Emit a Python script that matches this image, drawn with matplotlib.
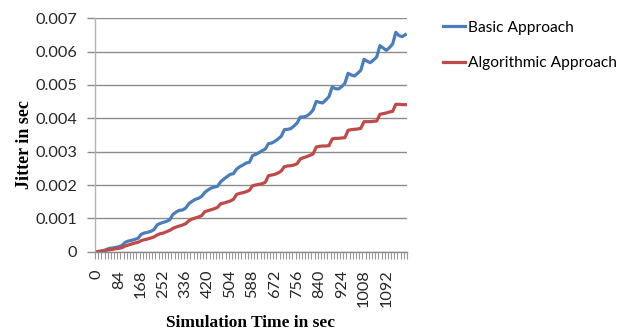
import numpy as np
import matplotlib.pyplot as plt
from matplotlib.ticker import FixedLocator, FuncFormatter

# simulation time (sec), one sample every 12 s
times = [0, 12, 24, 36, 48, 60, 72, 84, 96, 108, 120, 132, 144, 156,
         168, 180, 192, 204, 216, 228, 240, 252, 264, 276, 288, 300, 312, 324,
         336, 348, 360, 372, 384, 396, 408, 420, 432, 444, 456, 468, 480, 492,
         504, 516, 528, 540, 552, 564, 576, 588, 600, 612, 624, 636, 648, 660,
         672, 684, 696, 708, 720, 732, 744, 756, 768, 780, 792, 804, 816, 828,
         840, 852, 864, 876, 888, 900, 912, 924, 936, 948, 960, 972, 984, 996,
         1008, 1020, 1032, 1044, 1056, 1068, 1080, 1092, 1104, 1116, 1128, 1140,
         1152, 1164]

basic = [0.0, 0.00001, 0.00003, 0.00006, 0.00010, 0.00011, 0.00013, 0.00015,
         0.00019, 0.00028, 0.00032, 0.00034, 0.00037, 0.00040, 0.00052, 0.00056,
         0.00058, 0.00061, 0.00066, 0.00080, 0.00085, 0.00088, 0.00091, 0.00096,
         0.00112, 0.00119, 0.00124, 0.00125, 0.00131, 0.00144, 0.00151, 0.00157,
         0.00160, 0.00166, 0.00178, 0.00185, 0.00191, 0.00194, 0.00196, 0.00210,
         0.00218, 0.00225, 0.00232, 0.00234, 0.00248, 0.00255, 0.00260, 0.00266,
         0.00268, 0.00288, 0.00292, 0.00297, 0.00303, 0.00308, 0.00324, 0.00326,
         0.00331, 0.00338, 0.00346, 0.00366, 0.00367, 0.00369, 0.00377, 0.00386,
         0.00404, 0.00404, 0.00407, 0.00414, 0.00425, 0.00451, 0.00448, 0.00446,
         0.00455, 0.00465, 0.00494, 0.00489, 0.00488, 0.00495, 0.00505, 0.00535,
         0.00530, 0.00527, 0.00535, 0.00544, 0.00577, 0.00571, 0.00567, 0.00575,
         0.00584, 0.00618, 0.00611, 0.00604, 0.00612, 0.00623, 0.00658, 0.00648,
         0.00645, 0.00651]

algorithmic = [0.0, 0.00001, 0.00002, 0.00004, 0.00006, 0.00007, 0.00009, 0.00010,
               0.00012, 0.00017, 0.00020, 0.00023, 0.00026, 0.00028, 0.00033, 0.00036,
               0.00038, 0.00041, 0.00044, 0.00050, 0.00054, 0.00056, 0.00060, 0.00064,
               0.00070, 0.00074, 0.00077, 0.00080, 0.00084, 0.00093, 0.00098, 0.00101,
               0.00104, 0.00108, 0.00120, 0.00123, 0.00126, 0.00129, 0.00133, 0.00144,
               0.00146, 0.00149, 0.00152, 0.00157, 0.00172, 0.00175, 0.00177, 0.00180,
               0.00184, 0.00198, 0.00200, 0.00202, 0.00204, 0.00208, 0.00228, 0.00230,
               0.00232, 0.00236, 0.00242, 0.00255, 0.00257, 0.00258, 0.00260, 0.00264,
               0.00278, 0.00282, 0.00285, 0.00289, 0.00293, 0.00314, 0.00316, 0.00317,
               0.00317, 0.00318, 0.00338, 0.00340, 0.00340, 0.00341, 0.00342, 0.00364,
               0.00366, 0.00367, 0.00368, 0.00370, 0.00390, 0.00390, 0.00390, 0.00391,
               0.00392, 0.00412, 0.00414, 0.00416, 0.00419, 0.00421, 0.00442, 0.00442,
               0.00441, 0.00441]

series_names = ["Basic Approach", "Algorithmic Approach"]
y_ticks = [0, 0.001, 0.002, 0.003, 0.004, 0.005, 0.006, 0.007]
label_every = 7  # a time label every 84 s

fig = plt.figure(figsize=(6.35, 3.32), dpi=100)
ax = fig.add_axes([0.1496, 0.2419, 0.4913, 0.703])

pos = np.arange(len(times))
ax.plot(pos, basic, color="#4A7EBB", lw=2.3, solid_joinstyle="round", label=series_names[0])
ax.plot(pos, algorithmic, color="#BE4B48", lw=2.3, solid_joinstyle="round", label=series_names[1])

ax.set_xlim(-0.5, len(times) - 0.5)
ax.set_ylim(0, 0.007)
ax.yaxis.set_major_locator(FixedLocator(y_ticks))
ax.yaxis.set_major_formatter(FuncFormatter(lambda v, p: "0" if v == 0 else "%.3f" % v))
ax.grid(axis="y", color="#8C8C8C", lw=1)
ax.set_axisbelow(True)

# category labels at centres, tick marks between categories
ax.xaxis.set_major_locator(FixedLocator(pos[::label_every]))
ax.set_xticklabels([str(t) for t in times[::label_every]], rotation=90)
ax.xaxis.set_minor_locator(FixedLocator(np.arange(-0.5, len(times), 1)))
ax.tick_params(axis="x", which="major", length=0, pad=13)
ax.tick_params(axis="x", which="minor", length=5, color="#999999", width=0.8)
ax.tick_params(axis="y", length=6, color="#8C8C8C", width=1, pad=7)
ax.tick_params(labelsize=11.7, labelcolor="#262626")
for lab in ax.get_xticklabels() + ax.get_yticklabels():
    lab.set_fontfamily("Lato")

for s in ["top", "right"]:
    ax.spines[s].set_visible(False)
ax.spines["left"].set_color("#B3B3B3")
ax.spines["bottom"].set_color("#8C8C8C")
for s in ["left", "bottom"]:
    ax.spines[s].set_linewidth(1)

ax.set_ylabel("Jitter in sec", family="Liberation Serif", fontweight="bold", fontsize=13)
ax.yaxis.set_label_coords(-0.2, 0.457)
ax.set_xlabel("Simulation Time in sec", family="Liberation Serif", fontweight="bold", fontsize=12.5)
ax.xaxis.set_label_coords(0.5, -0.27)

ax.legend(loc="upper left", bbox_to_anchor=(0.675, 0.98), bbox_transform=fig.transFigure,
          frameon=False, handlelength=1.45, handletextpad=0.2, labelspacing=1.37,
          prop={"family": "Lato", "size": 11.2})

fig.savefig("out.png", dpi=100)
